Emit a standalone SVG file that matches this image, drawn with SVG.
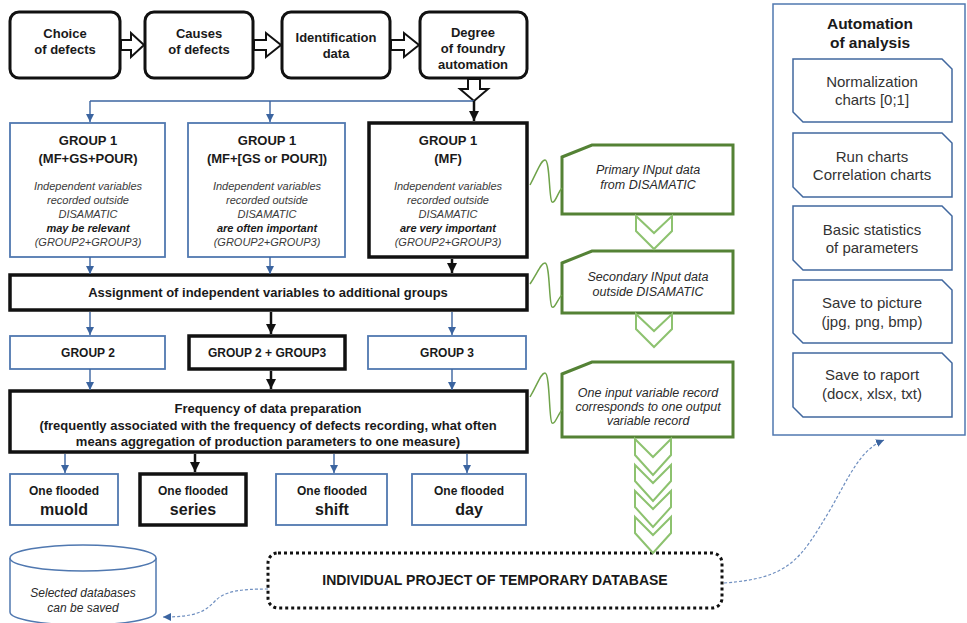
<svg xmlns="http://www.w3.org/2000/svg" width="967" height="623" viewBox="0 0 967 623">
<defs>
<marker id="ab" viewBox="0 0 10 10" refX="10" refY="5" markerWidth="8" markerHeight="8" markerUnits="userSpaceOnUse" orient="auto"><path d="M0,0 L10,5 L0,10 z" fill="#3B64A0"/></marker>
<marker id="ak" viewBox="0 0 10 10" refX="10" refY="5" markerWidth="10" markerHeight="10" markerUnits="userSpaceOnUse" orient="auto"><path d="M0,0 L10,5 L0,10 z" fill="#111"/></marker>
<style>
text{font-family:"Liberation Sans",Arial,sans-serif;text-anchor:middle}
.b{font-weight:bold;font-size:13px;fill:#1a1a1a}
.b12{font-weight:bold;font-size:12px;fill:#1a1a1a}
.b16{font-weight:bold;font-size:16px;fill:#1a1a1a}
.i{font-style:italic;font-size:11px;fill:#3a3a3a}
.bi{font-style:italic;font-weight:bold;font-size:11px;fill:#1a1a1a}
.gi{font-style:italic;font-size:12.5px;fill:#2a2a2a}
.r{font-size:15px;fill:#333}
.top{fill:#fff;stroke:#111;stroke-width:3}
.bl{fill:#fff;stroke:#5078B0;stroke-width:1.8}
.bk{fill:#fff;stroke:#111;stroke-width:3.5}
.gr{fill:#fff;stroke:#548235;stroke-width:3}
.ch{fill:#fff;stroke:#8DC26F;stroke-width:2}
.sq{fill:none;stroke:#6FA34A;stroke-width:1.5}
.hol{fill:#fff;stroke:#111;stroke-width:2;stroke-linejoin:miter}
.cb{fill:none;stroke:#3B64A0;stroke-width:1.4}
.ck{fill:none;stroke:#111;stroke-width:2.5}
.cd{fill:none;stroke:#6F8FC0;stroke-width:1.2;stroke-dasharray:3,2}
.pb{fill:#fff;stroke:#41689F;stroke-width:1.5}
</style>
</defs>

<g id="choice"><rect class="top" x="10" y="12" width="110" height="66" rx="9"/><text class="b" x="65" y="38">Choice</text><text class="b" x="65" y="54">of defects</text></g>
<g id="causes"><rect class="top" x="145" y="12" width="108" height="66" rx="9"/><text class="b" x="199" y="38">Causes</text><text class="b" x="199" y="54">of defects</text></g>
<g id="ident"><rect class="top" x="282" y="12" width="108" height="66" rx="9"/><text class="b" x="336" y="42">Identification</text><text class="b" x="336" y="58">data</text></g>
<g id="degree"><rect class="top" x="420" y="12" width="107" height="66" rx="9"/><text class="b" x="473" y="37">Degree</text><text class="b" x="473" y="53">of foundry</text><text class="b" x="473" y="69">automation</text></g>

<g id="grp1a"><rect class="bl" x="10" y="123" width="155" height="134"/><text class="b" x="88" y="145">GROUP 1</text><text class="b" x="88" y="163">(MF+GS+POUR)</text><text class="i" x="88" y="190">Independent variables</text><text class="i" x="88" y="204">recorded outside</text><text class="i" x="88" y="218">DISAMATIC</text><text class="bi" x="88" y="232">may be relevant</text><text class="i" x="88" y="246">(GROUP2+GROUP3)</text></g>
<g id="grp1b"><rect class="bl" x="188" y="123" width="157" height="134"/><text class="b" x="267" y="145">GROUP 1</text><text class="b" x="267" y="163">(MF+[GS or POUR])</text><text class="i" x="267" y="190">Independent variables</text><text class="i" x="267" y="204">recorded outside</text><text class="i" x="267" y="218">DISAMATIC</text><text class="bi" x="267" y="232">are often important</text><text class="i" x="267" y="246">(GROUP2+GROUP3)</text></g>
<g id="grp1c"><rect class="bk" x="369" y="123" width="158" height="134"/><text class="b" x="448" y="145">GROUP 1</text><text class="b" x="448" y="163">(MF)</text><text class="i" x="448" y="190">Independent variables</text><text class="i" x="448" y="204">recorded outside</text><text class="i" x="448" y="218">DISAMATIC</text><text class="bi" x="448" y="232">are very important</text><text class="i" x="448" y="246">(GROUP2+GROUP3)</text></g>

<g id="assign"><rect class="bk" x="10" y="275" width="517" height="35"/><text class="b" x="268" y="297">Assignment of independent variables to additional groups</text></g>

<g id="grp2"><rect class="bl" x="10" y="336" width="155" height="33"/><text class="b12" x="88" y="357">GROUP 2</text></g>
<g id="grp23"><rect class="bk" x="189" y="336" width="156" height="33"/><text class="b12" x="267" y="357">GROUP 2 + GROUP3</text></g>
<g id="grp3"><rect class="bl" x="368" y="336" width="158" height="33"/><text class="b12" x="447" y="357">GROUP 3</text></g>

<g id="freq"><rect class="bk" x="10" y="391" width="517" height="61"/><text class="b" x="268" y="413">Frequency of data preparation</text><text class="b" x="268" y="430">(frequently associated with the frequency of defects recording, what often</text><text class="b" x="268" y="446">means aggregation of production parameters to one measure)</text></g>

<g id="muold"><rect class="bl" x="10" y="474" width="108" height="51"/><text class="b12" x="64" y="495">One flooded</text><text class="b16" x="64" y="515">muold</text></g>
<g id="series"><rect class="bk" x="140" y="474" width="106" height="51"/><text class="b12" x="193" y="495">One flooded</text><text class="b16" x="193" y="515">series</text></g>
<g id="shift"><rect class="bl" x="276" y="474" width="111" height="51"/><text class="b12" x="332" y="495">One flooded</text><text class="b16" x="332" y="515">shift</text></g>
<g id="day"><rect class="bl" x="412" y="474" width="114" height="51"/><text class="b12" x="469" y="495">One flooded</text><text class="b16" x="469" y="515">day</text></g>

<g id="db"><path d="M10,558 L10,612 A73,13 0 0 0 156,612 L156,558" fill="#fff" stroke="#5078B0" stroke-width="1.5"/><ellipse cx="83" cy="558" rx="73" ry="13" fill="#fff" stroke="#5078B0" stroke-width="1.5"/><text class="gi" x="83" y="597" style="font-size:12px">Selected databases</text><text class="gi" x="83" y="612" style="font-size:12px">can be saved</text></g>

<g id="project"><rect x="268" y="553" width="454" height="55" rx="10" fill="#fff" stroke="#111" stroke-width="3" stroke-dasharray="3,3"/><text class="b" x="495" y="585" style="font-size:14px">INDIVIDUAL PROJECT OF TEMPORARY DATABASE</text></g>

<g id="primary"><polygon class="gr" points="562,157 592,145 733,145 733,214 562,214"/><text class="gi" x="648" y="174">Primary INput data</text><text class="gi" x="648" y="189">from DISAMATIC</text></g>
<g id="secondary"><polygon class="gr" points="562,263 592,251 733,251 733,313 562,313"/><text class="gi" x="648" y="281">Secondary INput data</text><text class="gi" x="648" y="296">outside DISAMATIC</text></g>
<g id="record"><polygon class="gr" points="562,374 592,362 733,362 733,437 562,437"/><text class="gi" x="648" y="397">One input variable record</text><text class="gi" x="648" y="411">corresponds to one output</text><text class="gi" x="648" y="425">variable record</text></g>

<g id="automation">
<rect x="773" y="4" width="192" height="431" fill="#fff" stroke="#5078B0" stroke-width="1.5"/>
<text class="b" x="870" y="29" style="font-size:15.5px">Automation</text>
<text class="b" x="870" y="48" style="font-size:15.5px">of analysis</text>
<g id="norm"><polygon class="pb" points="793,59 942,59 952,69 952,122 803,122 793,112"/><text class="r" x="872" y="87">Normalization</text><text class="r" x="872" y="105">charts [0;1]</text></g>
<g id="run"><polygon class="pb" points="793,133 942,133 952,143 952,197 803,197 793,187"/><text class="r" x="872" y="162">Run charts</text><text class="r" x="872" y="180">Correlation charts</text></g>
<g id="stats"><polygon class="pb" points="793,206 942,206 952,216 952,270 803,270 793,260"/><text class="r" x="872" y="235">Basic statistics</text><text class="r" x="872" y="253">of parameters</text></g>
<g id="pic"><polygon class="pb" points="793,280 942,280 952,290 952,343 803,343 793,333"/><text class="r" x="872" y="308">Save to picture</text><text class="r" x="872" y="327">(jpg, png, bmp)</text></g>
<g id="rap"><polygon class="pb" points="793,353 942,353 952,363 952,417 803,417 793,407"/><text class="r" x="872" y="380">Save to raport</text><text class="r" x="872" y="399">(docx, xlsx, txt)</text></g>
</g>

<g id="connectors">
<polygon class="hol" points="121,40 131,40 131,33 144,45 131,57 131,50 121,50"/>
<polygon class="hol" points="254,40 266,40 266,33 281,45 266,57 266,50 254,50"/>
<polygon class="hol" points="391,40 404,40 404,33 419,45 404,57 404,50 391,50"/>
<polygon class="hol" points="468,79 480,79 480,89 488,89 474,101 460,89 468,89"/>
<path class="cb" d="M90,101 L474,101"/>
<path class="cb" d="M90,101 L90,122" marker-end="url(#ab)"/>
<path class="cb" d="M270,101 L270,122" marker-end="url(#ab)"/>
<path class="ck" d="M474,101 L474,121" marker-end="url(#ak)"/>
<path class="cb" d="M90,257 L90,274" marker-end="url(#ab)"/>
<path class="cb" d="M270,257 L270,274" marker-end="url(#ab)"/>
<path class="ck" d="M452,259 L452,273" marker-end="url(#ak)"/>
<path class="cb" d="M90,312 L90,335" marker-end="url(#ab)"/>
<path class="ck" d="M271,312 L271,334" marker-end="url(#ak)"/>
<path class="cb" d="M452,312 L452,335" marker-end="url(#ab)"/>
<path class="cb" d="M90,369 L90,390" marker-end="url(#ab)"/>
<path class="ck" d="M271,371 L271,389" marker-end="url(#ak)"/>
<path class="cb" d="M452,369 L452,390" marker-end="url(#ab)"/>
<path class="cb" d="M65,454 L65,473" marker-end="url(#ab)"/>
<path class="ck" d="M195,454 L195,472" marker-end="url(#ak)"/>
<path class="cb" d="M334,454 L334,473" marker-end="url(#ab)"/>
<path class="cb" d="M467,454 L467,473" marker-end="url(#ab)"/>
<polygon class="ch" points="636,216 654,233 672,216 672,231 654,249 636,231"/>
<polygon class="ch" points="636,314 654,331 672,314 672,329 654,347 636,329"/>
<polygon class="ch" points="635,439 653,457 671,439 671,455 653,475 635,455"/>
<polygon class="ch" points="635,465 653,483 671,465 671,481 653,501 635,481"/>
<polygon class="ch" points="635,491 653,509 671,491 671,507 653,527 635,507"/>
<polygon class="ch" points="635,517 653,535 671,517 671,533 653,553 635,533"/>
<path class="sq" d="M530,185 C538,170 541,160 545,160 C550,160 549,200 552,202 C555,204 558,192 562,188"/>
<path class="sq" d="M530,284 C538,272 541,263 545,263 C550,263 549,305 552,307 C555,309 558,298 562,295"/>
<path class="sq" d="M530,397 C538,383 541,373 545,373 C550,373 549,421 552,423 C555,425 558,414 562,410"/>
<path class="cd" d="M268,589 C240,589 225,591 215,601 C205,612 195,617 163,617" marker-end="url(#ab)"/>
<path class="cd" d="M724,583 C790,578 800,560 830,510 C850,475 860,450 884,440" marker-end="url(#ab)"/>
</g>
</svg>
